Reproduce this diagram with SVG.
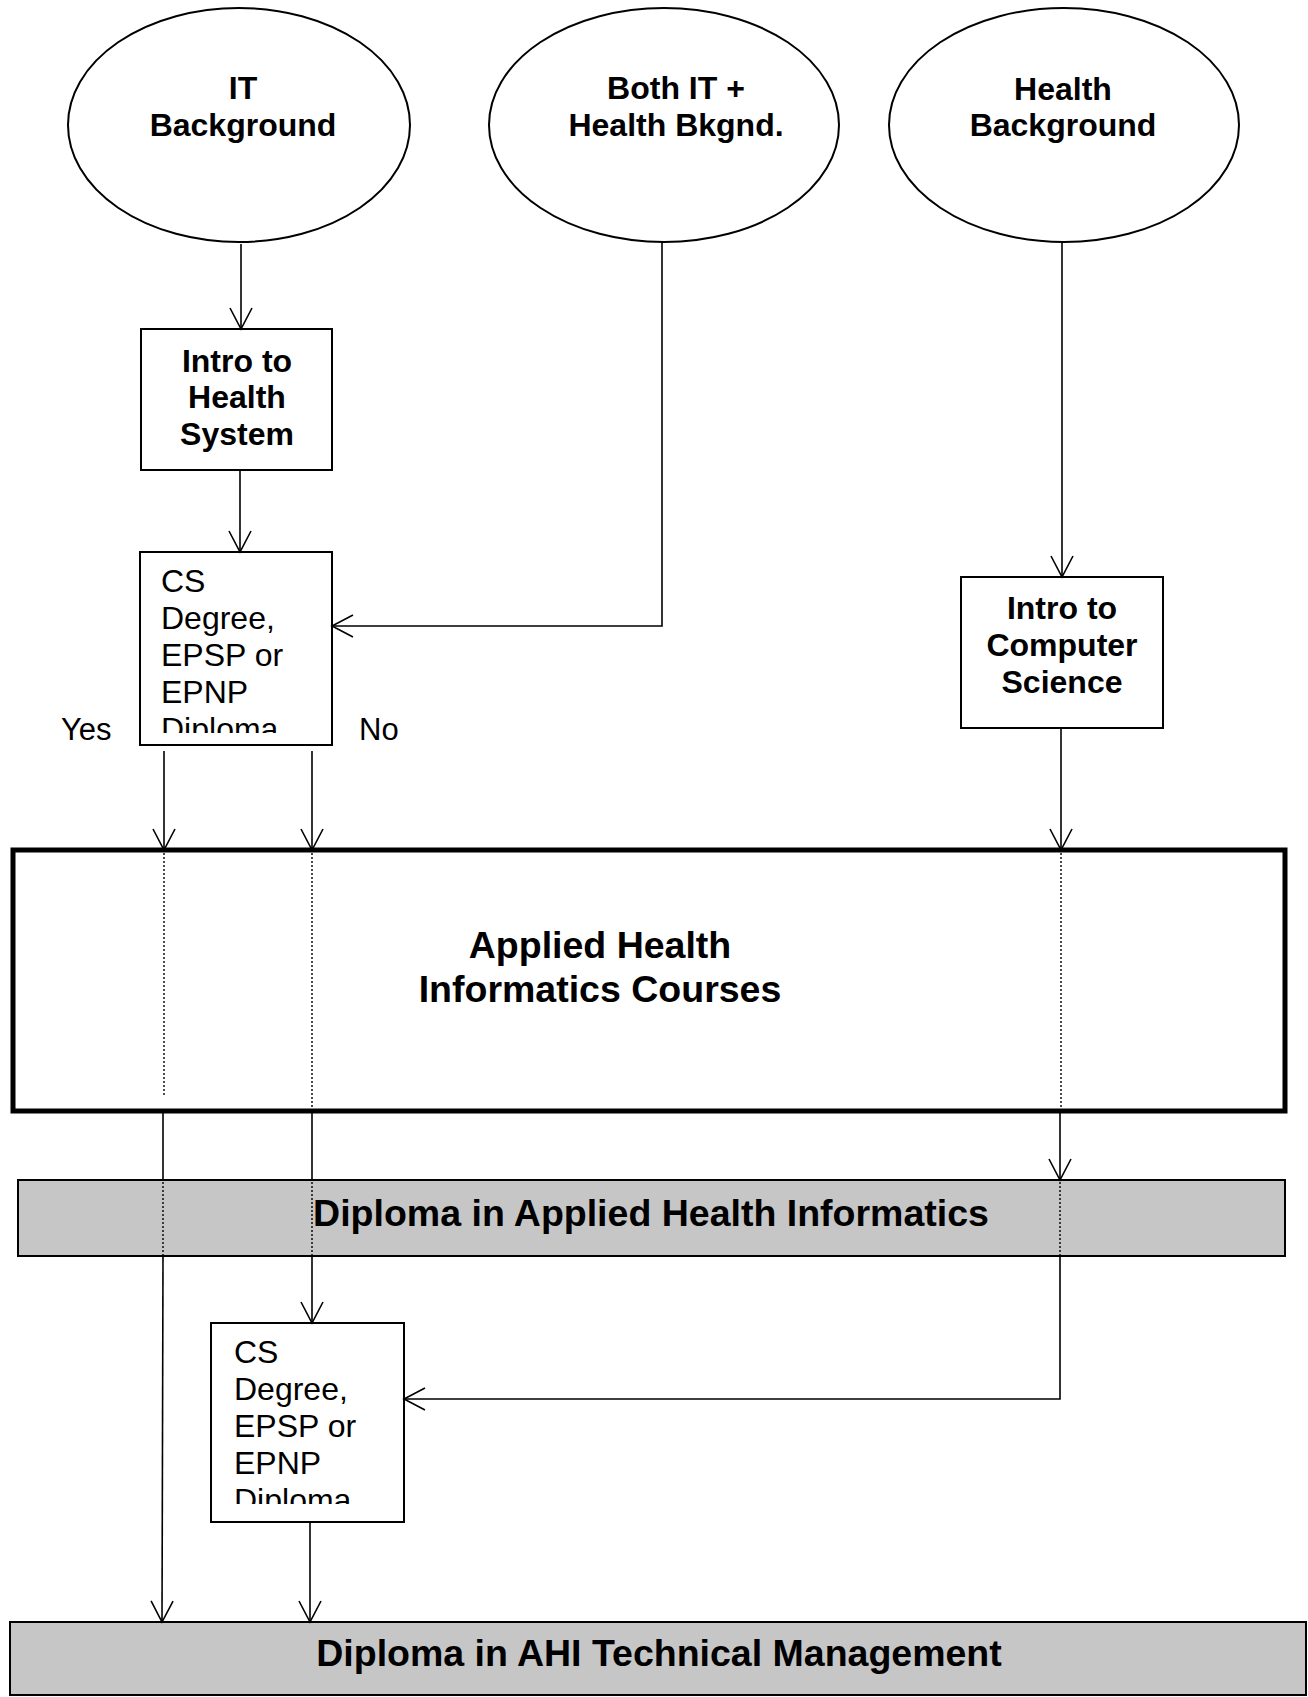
<svg xmlns="http://www.w3.org/2000/svg" width="1308" height="1697" viewBox="0 0 1308 1697">
<style>
  .sh { fill: #fff; stroke: #000; stroke-width: 2; }
  .bar { fill: #c6c6c6; stroke: #000; stroke-width: 2; }
  .big { fill: #fff; stroke: #000; stroke-width: 5; }
  .t { font-family: "Liberation Sans", Arial, sans-serif; fill: #000; }
  .b { font-weight: bold; font-size: 32px; text-anchor: middle; }
  .bb { font-weight: bold; font-size: 37.5px; text-anchor: middle; }
  .r { font-size: 32px; }
  .c { fill: none; stroke: #000; stroke-width: 1.6; }
  .d { fill: none; stroke: #000; stroke-width: 1.4; stroke-dasharray: 2 2; }
</style>
<defs>
  <marker id="arr" markerUnits="userSpaceOnUse" markerWidth="30" markerHeight="30" viewBox="-25 -15 30 30" refX="0" refY="0" orient="auto" overflow="visible">
    <path d="M-21,-11 L0,0 L-21,11" fill="none" stroke="#000" stroke-width="1.6"/>
  </marker>
  <clipPath id="clip1"><rect x="140" y="552" width="192" height="181"/></clipPath>
  <clipPath id="clip2"><rect x="211" y="1323" width="193" height="181"/></clipPath>
</defs>
<rect width="1308" height="1697" fill="#fff"/>

<g id="it-background">
  <ellipse class="sh" cx="239" cy="125" rx="171" ry="117"/>
  <text class="t b" x="243" y="99">IT</text>
  <text class="t b" x="243" y="136">Background</text>
</g>
<g id="both-background">
  <ellipse class="sh" cx="664" cy="125" rx="175" ry="117"/>
  <text class="t b" x="676" y="99">Both IT +</text>
  <text class="t b" x="676" y="136">Health Bkgnd.</text>
</g>
<g id="health-background">
  <ellipse class="sh" cx="1064" cy="125" rx="175" ry="117"/>
  <text class="t b" x="1063" y="100">Health</text>
  <text class="t b" x="1063" y="136">Background</text>
</g>
<g id="intro-health">
  <rect class="sh" x="141" y="329" width="191" height="141"/>
  <text class="t b" x="237" y="372">Intro to</text>
  <text class="t b" x="237" y="408">Health</text>
  <text class="t b" x="237" y="445">System</text>
</g>
<g id="cs-check-1">
  <rect class="sh" x="140" y="552" width="192" height="193"/>
  <g clip-path="url(#clip1)">
    <text class="t r" x="161" y="592">CS</text>
    <text class="t r" x="161" y="629">Degree,</text>
    <text class="t r" x="161" y="666">EPSP or</text>
    <text class="t r" x="161" y="703">EPNP</text>
    <text class="t r" x="161" y="740">Diploma</text>
  </g>
</g>
<g id="intro-cs">
  <rect class="sh" x="961" y="577" width="202" height="151"/>
  <text class="t b" x="1062" y="619">Intro to</text>
  <text class="t b" x="1062" y="656">Computer</text>
  <text class="t b" x="1062" y="693">Science</text>
</g>
<g id="labels">
  <text class="t r" x="61" y="740" style="font-size:31px">Yes</text>
  <text class="t r" x="359" y="740" style="font-size:31px">No</text>
</g>
<g id="ahi-courses">
  <rect class="big" x="13" y="850" width="1272" height="261"/>
  <text class="t bb" x="600" y="958">Applied Health</text>
  <text class="t bb" x="600" y="1002">Informatics Courses</text>
</g>
<g id="diploma-ahi">
  <rect class="bar" x="18" y="1180" width="1267" height="76"/>
  <text class="t bb" x="651" y="1226">Diploma in Applied Health Informatics</text>
</g>
<g id="cs-check-2">
  <rect class="sh" x="211" y="1323" width="193" height="199"/>
  <g clip-path="url(#clip2)">
    <text class="t r" x="234" y="1363">CS</text>
    <text class="t r" x="234" y="1400">Degree,</text>
    <text class="t r" x="234" y="1437">EPSP or</text>
    <text class="t r" x="234" y="1474">EPNP</text>
    <text class="t r" x="234" y="1511">Diploma</text>
  </g>
</g>
<g id="diploma-tech-mgmt">
  <rect class="bar" x="10" y="1622" width="1296" height="73"/>
  <text class="t bb" x="659" y="1666">Diploma in AHI Technical Management</text>
</g>

<g id="connectors">
  <path class="c" d="M241,244 L241,329" marker-end="url(#arr)"/>
  <path class="c" d="M240,470 L240,552" marker-end="url(#arr)"/>
  <path class="c" d="M662,242 L662,626 L332,626" marker-end="url(#arr)"/>
  <path class="c" d="M1062,243 L1062,577" marker-end="url(#arr)"/>
  <path class="c" d="M164,751 L164,850" marker-end="url(#arr)"/>
  <path class="d" d="M164,853 L164,1095"/>
  <path class="c" d="M163,1113 L163,1181"/>
  <path class="d" d="M163,1182 L163,1255"/>
  <path class="c" d="M163,1257 L162,1622" marker-end="url(#arr)"/>
  <path class="c" d="M312,751 L312,850" marker-end="url(#arr)"/>
  <path class="d" d="M312,853 L312,1109"/>
  <path class="c" d="M312,1113 L312,1181"/>
  <path class="d" d="M312,1182 L312,1255"/>
  <path class="c" d="M312,1257 L312,1323" marker-end="url(#arr)"/>
  <path class="c" d="M1061,728 L1061,850" marker-end="url(#arr)"/>
  <path class="d" d="M1061,853 L1061,1109"/>
  <path class="c" d="M1060,1113 L1060,1180" marker-end="url(#arr)"/>
  <path class="d" d="M1060,1182 L1060,1255"/>
  <path class="c" d="M1060,1257 L1060,1399 L404,1399" marker-end="url(#arr)"/>
  <path class="c" d="M310,1522 L310,1622" marker-end="url(#arr)"/>
</g>
</svg>
